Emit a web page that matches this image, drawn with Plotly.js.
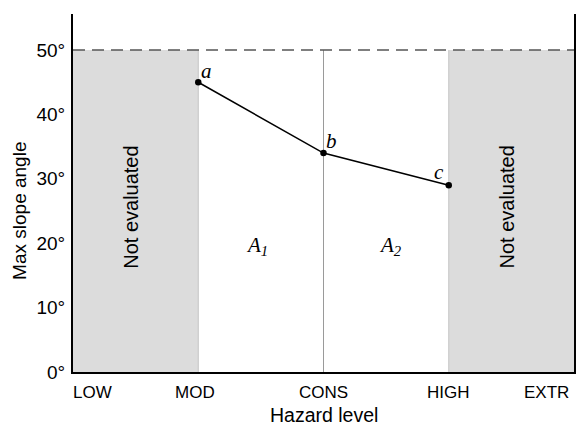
<!DOCTYPE html>
<html>
<head>
<meta charset="utf-8">
<script src="https://cdn.plot.ly/plotly-3.0.1.min.js"></script>
<style>html,body{margin:0;padding:0;background:#fff;}#chart{width:576px;height:427px;}</style>
</head>
<body>
<div id="chart"></div>
<script>
// Data
const hazardLevels = ['LOW', 'MOD', 'CONS', 'HIGH', 'EXTR'];
const pointLevels = ['MOD', 'CONS', 'HIGH'];
const pointSlopes = [45, 34, 29];
const pointLabels = ['a', 'b', 'c'];
const maxSlopeLimit = 50;
const notEvaluatedRanges = [['LOW', 'MOD'], ['HIGH', 'EXTR']];
const areaLabels = ['A<sub>1</sub>', 'A<sub>2</sub>'];
const areaRanges = [['MOD', 'CONS'], ['CONS', 'HIGH']];
const yTickVals = [0, 10, 20, 30, 40, 50];
const yTickText = ['0°', '10°', '20°', '30°', '40°', '50°'];

const idx = name => hazardLevels.indexOf(name);
const SANS = 'Liberation Sans, Arial, Helvetica, sans-serif';
const SERIF = 'Liberation Serif, Times New Roman, serif';

const lineTrace = {
  x: pointLevels.map(idx),
  y: pointSlopes,
  type: 'scatter',
  mode: 'lines+markers',
  line: {color: '#000', width: 1.5},
  marker: {color: '#000', size: 6.5},
  hoverinfo: 'skip',
  showlegend: false
};

const shapes = [];
notEvaluatedRanges.forEach(r => {
  shapes.push({type: 'rect', xref: 'x', yref: 'y', x0: idx(r[0]), x1: idx(r[1]), y0: 0, y1: maxSlopeLimit,
    fillcolor: '#dcdcdc', line: {width: 0}, layer: 'below'});
});
['MOD', 'HIGH'].forEach(n => {
  shapes.push({type: 'line', xref: 'x', yref: 'y', x0: idx(n), x1: idx(n), y0: 0, y1: maxSlopeLimit,
    line: {color: '#c4c4c4', width: 1}, layer: 'below'});
});
shapes.push({type: 'line', xref: 'x', yref: 'y', x0: idx('CONS'), x1: idx('CONS'), y0: 0, y1: maxSlopeLimit,
  line: {color: '#9a9a9a', width: 1}, layer: 'below'});
shapes.push({type: 'line', xref: 'paper', yref: 'y', x0: 0, x1: 1, y0: maxSlopeLimit, y1: maxSlopeLimit,
  line: {color: '#555', width: 1.5, dash: '12px,7px'}, layer: 'above'});

const annotations = [];
// x tick labels
hazardLevels.forEach((h, i) => {
  let anchor = 'center', xs = 0;
  if (i === 0) { anchor = 'left'; xs = -2; }
  if (i === hazardLevels.length - 1) { anchor = 'right'; xs = -3; }
  if (i === 1) xs = -3;
  annotations.push({x: i, xref: 'x', y: 0, yref: 'paper', yanchor: 'top', xanchor: anchor,
    xshift: xs, yshift: -9, text: h, showarrow: false, font: {family: SANS, size: 17, color: '#000'}});
});
// point labels
const labelOffsets = [[8, 11], [8, 12], [-10, 13]];
pointLevels.forEach((p, i) => {
  annotations.push({x: idx(p), y: pointSlopes[i], xref: 'x', yref: 'y', text: '<i>' + pointLabels[i] + '</i>',
    showarrow: false, xshift: labelOffsets[i][0], yshift: labelOffsets[i][1],
    font: {family: SERIF, size: 21, color: '#000'}});
});
// not evaluated labels
notEvaluatedRanges.forEach(r => {
  annotations.push({x: (idx(r[0]) + idx(r[1])) / 2, y: maxSlopeLimit / 2 + 0.6, xref: 'x', yref: 'y',
    text: 'Not evaluated', textangle: -90, showarrow: false, xshift: -4,
    font: {family: SANS, size: 20, color: '#000'}});
});
// area labels
const areaShift = [-4, 4];
areaRanges.forEach((r, i) => {
  annotations.push({x: (idx(r[0]) + idx(r[1])) / 2, y: 19.5, xref: 'x', yref: 'y',
    text: '<i>' + areaLabels[i] + '</i>', showarrow: false, xshift: areaShift[i],
    font: {family: SERIF, size: 21, color: '#000'}});
});
// axis titles
annotations.push({x: 0.5, xref: 'paper', y: 0, yref: 'paper', yanchor: 'bottom', yshift: -55, borderpad: 0,
  text: 'Hazard level', showarrow: false, font: {family: SANS, size: 19.5, color: '#000'}});
annotations.push({x: 0, xref: 'paper', y: 0.45, yref: 'paper', xanchor: 'center', xshift: -53, textangle: -90,
  text: 'Max slope angle', showarrow: false, font: {family: SANS, size: 19, color: '#000'}});

const layout = {
  width: 576, height: 427,
  margin: {l: 73, r: 2, t: 14, b: 55},
  paper_bgcolor: '#fff', plot_bgcolor: '#fff',
  showlegend: false,
  xaxis: {range: [0, 4], showgrid: false, zeroline: false, showticklabels: false, ticks: '',
    showline: true, linecolor: '#000', linewidth: 2, mirror: false, fixedrange: true},
  yaxis: {range: [0, 55.6], showgrid: false, zeroline: false, tickvals: yTickVals, ticktext: yTickText,
    ticks: '', ticklabelstandoff: 2,
    tickfont: {family: SANS, size: 19, color: '#000'},
    showline: true, linecolor: '#000', linewidth: 2, mirror: true, fixedrange: true},
  shapes: shapes,
  annotations: annotations
};

Plotly.newPlot('chart', [lineTrace], layout, {displayModeBar: false, staticPlot: true});
</script>
</body>
</html>
